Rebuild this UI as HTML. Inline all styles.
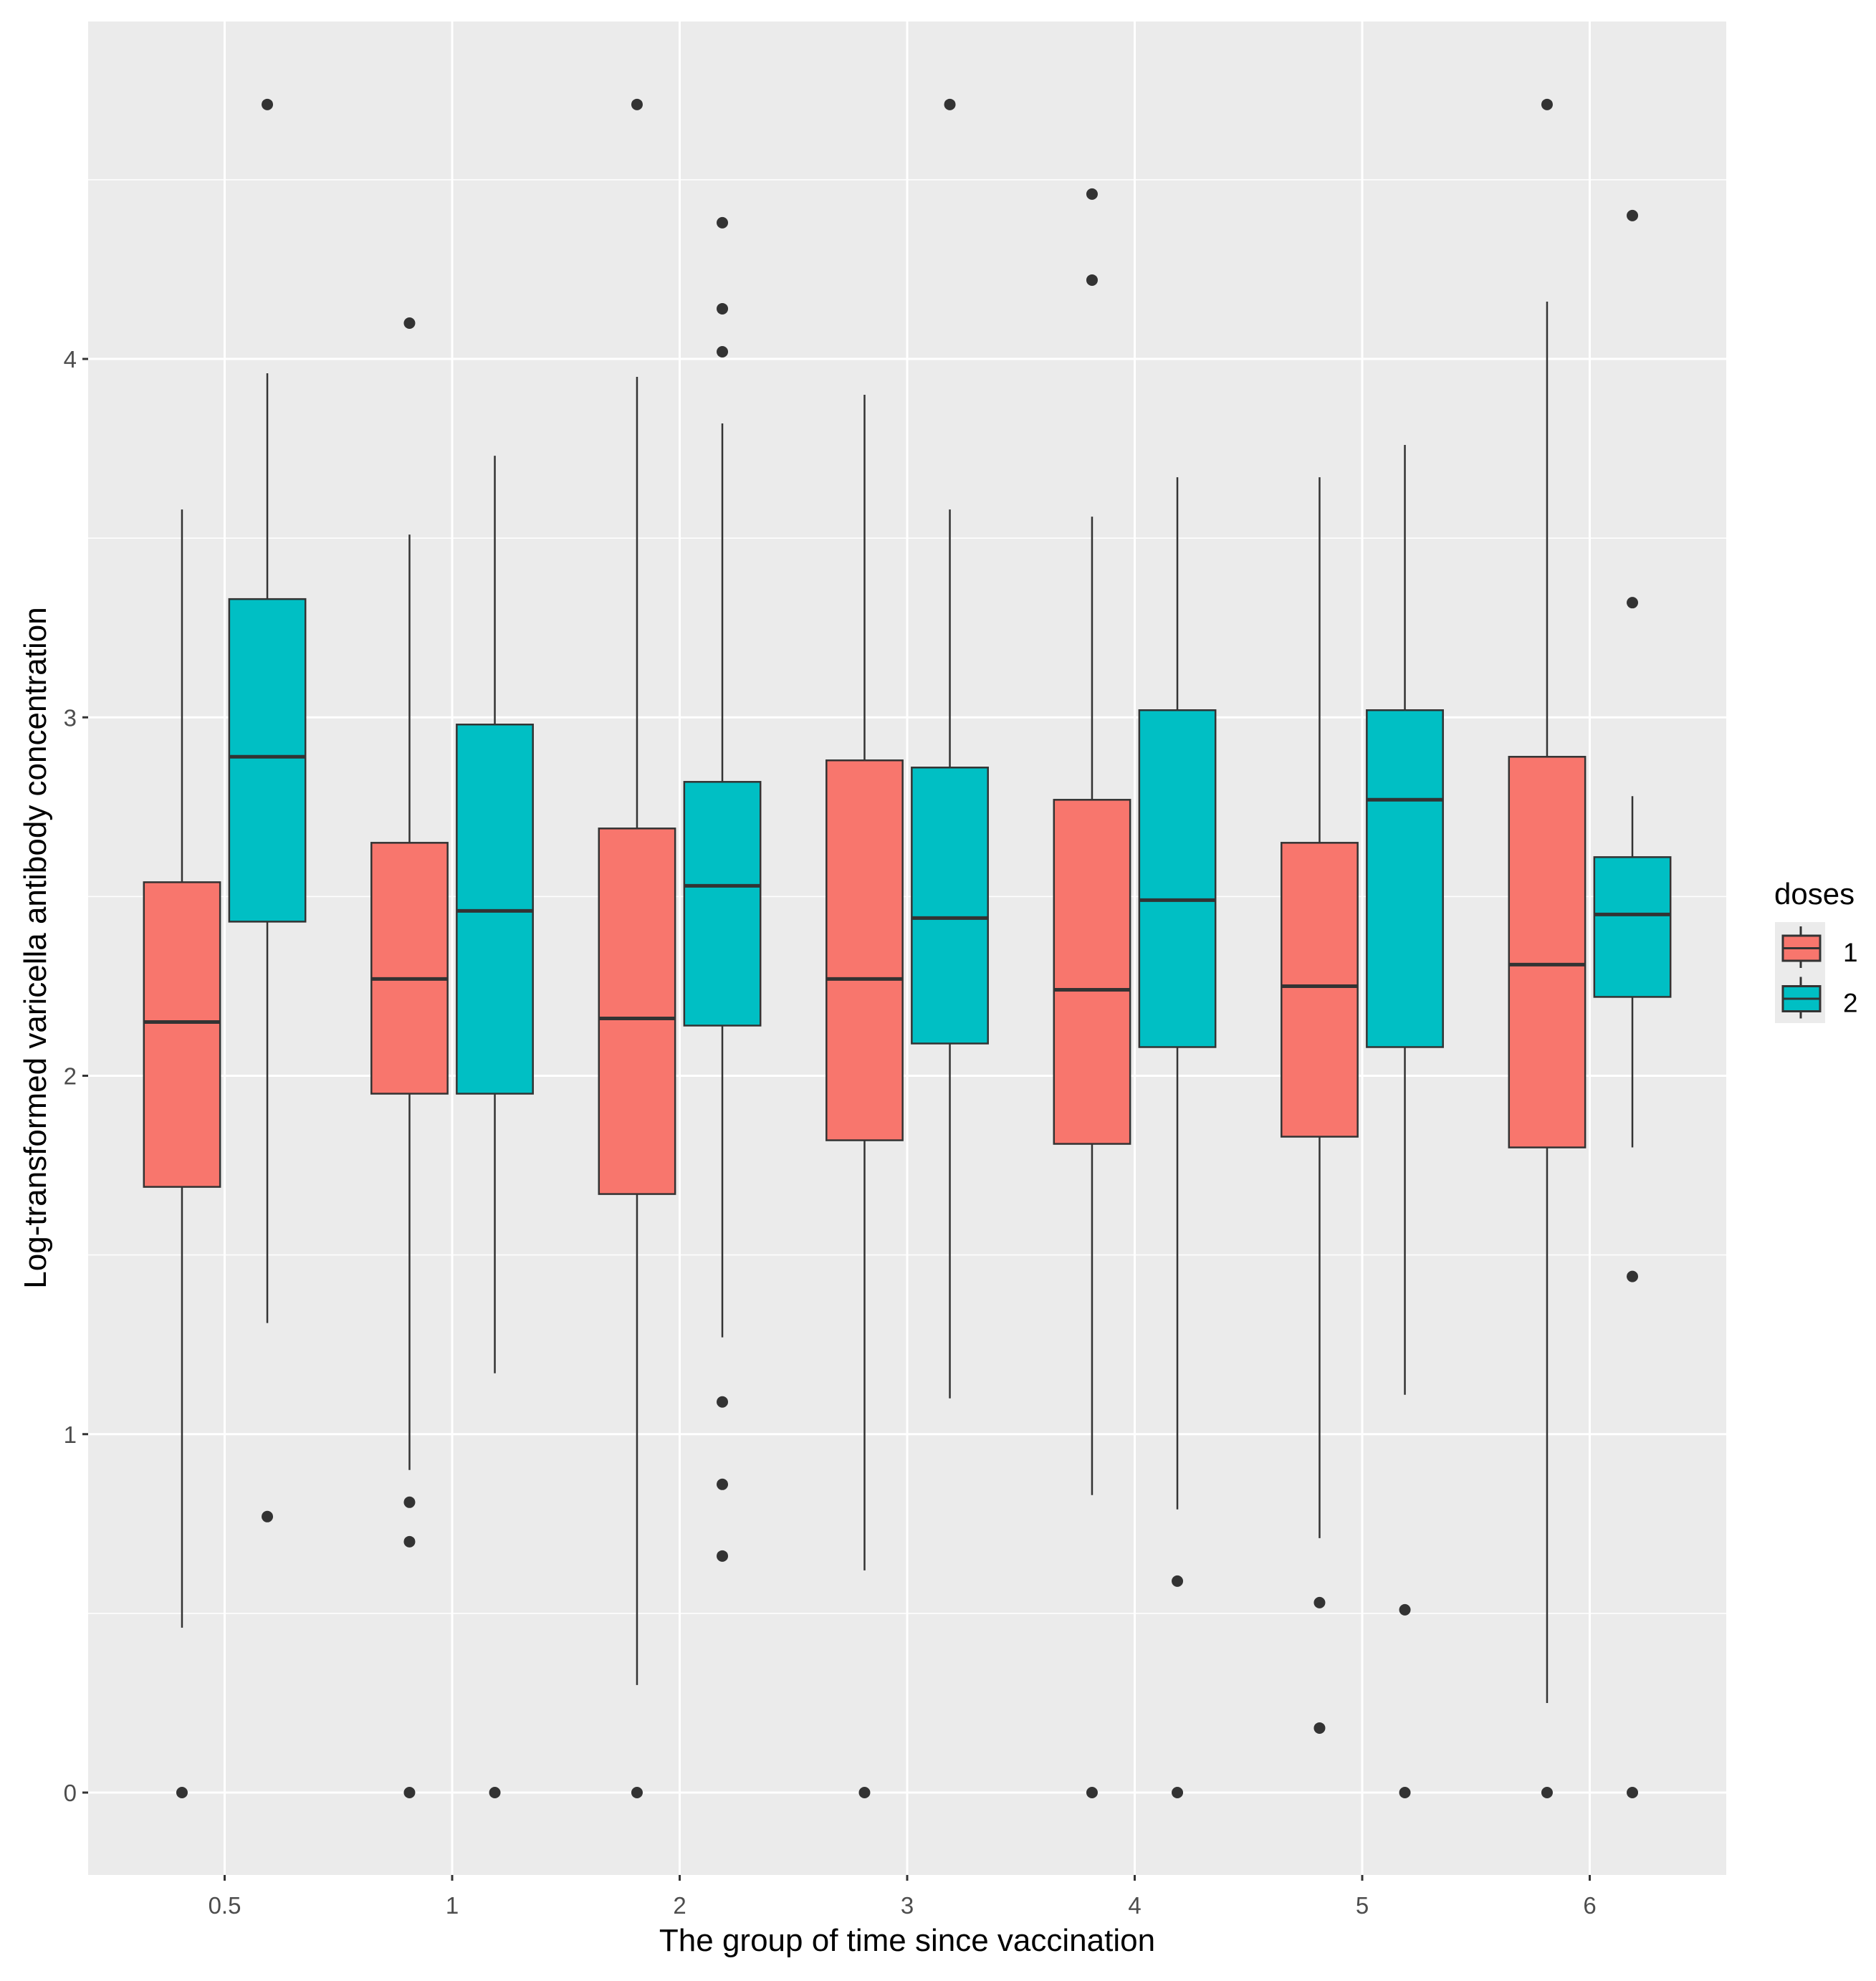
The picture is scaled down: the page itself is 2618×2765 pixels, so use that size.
<!DOCTYPE html>
<html><head><meta charset="utf-8"><style>body{margin:0;background:#fff}svg{display:block}text{font-family:"Liberation Sans",Arial,sans-serif}</style></head>
<body>
<svg id="chart" width="2618" height="2765" viewBox="0 0 2618 2765" xmlns="http://www.w3.org/2000/svg"></svg>
<script>
const categories = ["0.5","1","2","3","4","5","6"];
const doses = ["1","2"];
const doseColors = ["#F8766D","#00BFC4"];
// [lowerWhisker, Q1, median, Q3, upperWhisker] per category
const dose1Stats = [[0.46,1.69,2.15,2.54,3.58],[0.90,1.95,2.27,2.65,3.51],[0.30,1.67,2.16,2.69,3.95],[0.62,1.82,2.27,2.88,3.90],[0.83,1.81,2.24,2.77,3.56],[0.71,1.83,2.25,2.65,3.67],[0.25,1.80,2.31,2.89,4.16]];
const dose2Stats = [[1.31,2.43,2.89,3.33,3.96],[1.17,1.95,2.46,2.98,3.73],[1.27,2.14,2.53,2.82,3.82],[1.10,2.09,2.44,2.86,3.58],[0.79,2.08,2.49,3.02,3.67],[1.11,2.08,2.77,3.02,3.76],[1.80,2.22,2.45,2.61,2.78]];
const dose1Outliers = [[0],[4.10,0.81,0.70,0],[4.71,0],[0],[4.46,4.22,0],[0.53,0.18],[4.71,0]];
const dose2Outliers = [[4.71,0.77],[0],[4.38,4.14,4.02,1.09,0.86,0.66],[4.71],[0.59,0],[0.51,0],[4.40,3.32,1.44,0]];
const yTicks = [0,1,2,3,4];
const yMinor = [0.5,1.5,2.5,3.5,4.5];

const NS="http://www.w3.org/2000/svg", svg=document.getElementById('chart');
const P={l:123,r:2409,t:30,b:2617};
const step=(P.r-P.l)/7.2;
const xc=i=>P.l+(i+0.6)*step;
const y=v=>2502-v*500.25;
function el(t,a,txt){const e=document.createElementNS(NS,t);for(const k in a)e.setAttribute(k,a[k]);if(txt!==undefined)e.textContent=txt;svg.appendChild(e);return e;}
let e=el('rect',{x:P.l,y:P.t,width:P.r-P.l,height:P.b-P.t,fill:'#EBEBEB'});


yMinor.forEach(v=>{const g=el('line',{x1:P.l,x2:P.r,y1:y(v),y2:y(v),stroke:'#fff','stroke-width':1.6});

});
yTicks.forEach(v=>{const g=el('line',{x1:P.l,x2:P.r,y1:y(v),y2:y(v),stroke:'#fff','stroke-width':3});


const t=el('line',{x1:P.l-8,x2:P.l,y1:y(v),y2:y(v),stroke:'#333','stroke-width':3});


const l=el('text',{x:P.l-16,y:y(v)+12,'text-anchor':'end','font-size':33,fill:'#4D4D4D'},v);

});
categories.forEach((c,i)=>{const g=el('line',{x1:xc(i),x2:xc(i),y1:P.t,y2:P.b,stroke:'#fff','stroke-width':3});


const t=el('line',{x1:xc(i),x2:xc(i),y1:P.b,y2:P.b+8,stroke:'#333','stroke-width':3});


const l=el('text',{x:xc(i),y:P.b+54,'text-anchor':'middle','font-size':33,fill:'#4D4D4D'},c);

});
const bw=0.335*step, off=0.1875*step;
[dose1Stats,dose2Stats].forEach((S,d)=>{const O=[dose1Outliers,dose2Outliers][d];
S.forEach((s,i)=>{const cx=xc(i)+(d?off:-off);
let w=el('line',{x1:cx,x2:cx,y1:y(s[4]),y2:y(s[3]),stroke:'#333','stroke-width':2.5});


w=el('line',{x1:cx,x2:cx,y1:y(s[1]),y2:y(s[0]),stroke:'#333','stroke-width':2.5});


const b=el('rect',{x:cx-bw/2,y:y(s[3]),width:bw,height:y(s[1])-y(s[3]),fill:doseColors[d],stroke:'#333','stroke-width':2.5});


const m=el('line',{x1:cx-bw/2,x2:cx+bw/2,y1:y(s[2]),y2:y(s[2]),stroke:'#333','stroke-width':5});


O[i].forEach(v=>{const p=el('circle',{cx:cx,cy:y(v),r:8,fill:'#333'});

});});});
let t=el('text',{x:(P.l+P.r)/2,y:2723,'text-anchor':'middle','font-size':44,fill:'#000'},'The group of time since vaccination');


t=el('text',{x:0,y:0,'text-anchor':'middle','font-size':44,fill:'#000',transform:'translate(64,1323) rotate(-90)'},'Log-transformed varicella antibody concentration');


t=el('text',{x:2476,y:1262,'font-size':42,fill:'#000'},'doses');


doses.forEach((d,k)=>{const top=1287+k*70.5;
const bg=el('rect',{x:2477,y:top,width:70,height:70.5,fill:'#EBEBEB'});


const wl=el('line',{x1:2513,x2:2513,y1:top+6,y2:top+64,stroke:'#333','stroke-width':3});


const r=el('rect',{x:2488,y:top+19,width:52,height:35,fill:doseColors[k],stroke:'#333','stroke-width':3});


const ml=el('line',{x1:2488,x2:2540,y1:top+36.5,y2:top+36.5,stroke:'#333','stroke-width':3});


const l=el('text',{x:2572,y:top+55,'font-size':37,fill:'#000'},d);

});
</script>
</body></html>
